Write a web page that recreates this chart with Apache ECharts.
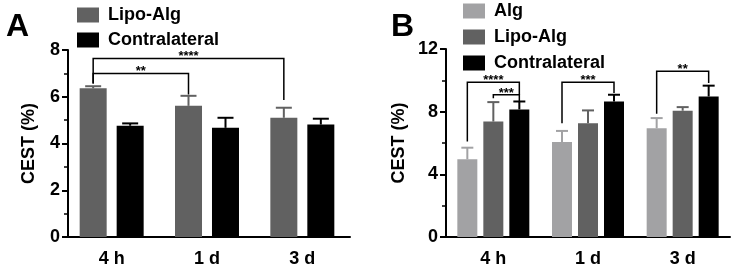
<!DOCTYPE html>
<html>
<head>
<meta charset="utf-8">
<script src="https://cdn.jsdelivr.net/npm/echarts@6/dist/echarts.min.js"></script>
<style>
  html, body { margin: 0; padding: 0; background: #fff; }
  #chart { width: 733px; height: 274px; }
</style>
</head>
<body>
<div id="chart"></div>
<script>
// categories shared by both panels
const categories = ['4 h', '1 d', '3 d'];

// panel A
const lipoA = [6.36, 5.61, 5.10];
const lipoAErr = [6.45, 6.04, 5.53];
const contraA = [4.76, 4.67, 4.81];
const contraAErr = [4.86, 5.10, 5.06];

// panel B
const algB = [4.96, 6.07, 6.94];
const algBErr = [5.70, 6.77, 7.59];
const lipoB = [7.37, 7.26, 8.06];
const lipoBErr = [8.61, 8.08, 8.29];
const contraB = [8.14, 8.65, 8.97];
const contraBErr = [8.65, 9.08, 9.66];

// significance brackets: [category, bar] ends, line height, leg bottoms, stars
const bracketsA = [
  { from: [0, 0], to: [2, 0], y: 7.64, legFrom: 6.57, legTo: 5.86, text: '****' },
  { from: [0, 0], to: [1, 0], y: 7.0, legFrom: 6.57, legTo: 6.1, text: '**' }
];
const bracketsB = [
  { from: [0, 0], to: [0, 2], y: 9.87, legFrom: 6.09, legTo: 9.08, text: '****' },
  { from: [0, 1], to: [0, 2], y: 9.08, legFrom: 8.85, legTo: 8.65, text: '***' },
  { from: [1, 0], to: [1, 2], y: 9.87, legFrom: 7.26, legTo: 9.19, text: '***' },
  { from: [2, 0], to: [2, 2], y: 10.58, legFrom: 7.86, legTo: 9.83, text: '**' }
];

const FONT = 'Liberation Sans';
const C_ALG = '#a2a2a4';
const C_LIPO = '#616161';
const C_CONTRA = '#000000';

const offsetsA = [-18.5, 18.5];
const offsetsB = [-26, 0, 26];

function errorSeries(name, values, tops, color, offset, capW, axis) {
  return {
    type: 'custom',
    name: name,
    xAxisIndex: axis,
    yAxisIndex: axis,
    silent: true,
    z: 3,
    data: values.map((v, i) => [i, v, tops[i]]),
    encode: { x: 0, y: [1, 2] },
    renderItem: function (params, api) {
      const base = api.coord([api.value(0), api.value(1)]);
      const top = api.coord([api.value(0), api.value(2)]);
      const x = base[0] + offset;
      return {
        type: 'group',
        children: [
          { type: 'line', shape: { x1: x, y1: base[1], x2: x, y2: top[1] }, style: { stroke: color, lineWidth: 2 } },
          { type: 'line', shape: { x1: x - capW / 2, y1: top[1], x2: x + capW / 2, y2: top[1] }, style: { stroke: color, lineWidth: 2 } }
        ]
      };
    }
  };
}

function bracketSeries(list, offsets, axis) {
  return {
    type: 'custom',
    xAxisIndex: axis,
    yAxisIndex: axis,
    silent: true,
    z: 4,
    data: list.map((b) => [b.from[0], b.y]),
    renderItem: function (params, api) {
      const b = list[params.dataIndex];
      const p1 = api.coord([b.from[0], b.y]);
      const p2 = api.coord([b.to[0], b.y]);
      const x1 = p1[0] + offsets[b.from[1]];
      const x2 = p2[0] + offsets[b.to[1]];
      const y = p1[1];
      const yl1 = api.coord([b.from[0], b.legFrom])[1];
      const yl2 = api.coord([b.to[0], b.legTo])[1];
      return {
        type: 'group',
        children: [
          { type: 'polyline', shape: { points: [[x1, yl1], [x1, y], [x2, y], [x2, yl2]] }, style: { stroke: '#000', lineWidth: 1.5, fill: null } },
          { type: 'text', style: { x: (x1 + x2) / 2, y: y + 5, text: b.text, textAlign: 'center', textVerticalAlign: 'bottom', font: 'bold 13px ' + FONT, fill: '#000' } }
        ]
      };
    }
  };
}

function yAxisOf(grid, max, interval, nameGap) {
  return {
    type: 'value',
    gridIndex: grid,
    min: 0,
    max: max,
    interval: interval,
    offset: grid === 0 ? -4 : 0,
    name: 'CEST (%)',
    nameLocation: 'middle',
    nameGap: nameGap,
    nameTextStyle: { fontFamily: FONT, fontWeight: 'bold', fontSize: 18, color: '#000' },
    axisLine: { show: true, lineStyle: { color: '#000', width: 2 } },
    axisTick: { show: true, length: 6, lineStyle: { color: '#000', width: 2 } },
    minorTick: { show: true, splitNumber: 2, length: 4, lineStyle: { color: '#000', width: 1.5 } },
    axisLabel: { fontFamily: FONT, fontWeight: 'bold', fontSize: 18, color: '#000', margin: 8 },
    splitLine: { show: false }
  };
}

function xAxisOf(grid) {
  return {
    type: 'category',
    gridIndex: grid,
    data: categories,
    axisLine: { lineStyle: { color: '#000', width: 2 } },
    axisTick: { alignWithLabel: true, length: 6, lineStyle: { color: '#000', width: 2 } },
    axisLabel: { fontFamily: FONT, fontWeight: 'bold', fontSize: 18, color: '#000', margin: 13 }
  };
}

const chart = echarts.init(document.getElementById('chart'));

chart.setOption({
  animation: false,
  title: [
    { text: 'A', left: 6, top: 11, padding: 0, textStyle: { fontFamily: FONT, fontWeight: 'bold', fontSize: 32, color: '#000' } },
    { text: 'B', left: 391, top: 11, padding: 0, textStyle: { fontFamily: FONT, fontWeight: 'bold', fontSize: 32, color: '#000' } }
  ],
  legend: [
    {
      data: ['Lipo-Alg', 'Contralateral'],
      orient: 'vertical', left: 77, top: 6, padding: 0,
      itemWidth: 22, itemHeight: 15, itemGap: 7, icon: 'rect',
      textStyle: { fontFamily: FONT, fontWeight: 'bold', fontSize: 18, color: '#000', padding: [0, 0, 0, 4] }
    },
    {
      data: ['Alg', 'Lipo-Alg', 'Contralateral'],
      orient: 'vertical', left: 463, top: 2, padding: 0,
      itemWidth: 22, itemHeight: 15, itemGap: 8, icon: 'rect',
      textStyle: { fontFamily: FONT, fontWeight: 'bold', fontSize: 18, color: '#000', padding: [0, 0, 0, 4] }
    }
  ],
  grid: [
    { left: 64, top: 50, width: 286, height: 187 },
    { left: 446, top: 49, width: 284, height: 188 }
  ],
  xAxis: [xAxisOf(0), xAxisOf(1)],
  yAxis: [yAxisOf(0, 8, 2, 30), yAxisOf(1, 12, 4, 38)],
  series: [
    { type: 'bar', name: 'Lipo-Alg', xAxisIndex: 0, yAxisIndex: 0, data: lipoA, barWidth: 27, barGap: '37%', itemStyle: { color: C_LIPO } },
    { type: 'bar', name: 'Contralateral', xAxisIndex: 0, yAxisIndex: 0, data: contraA, barWidth: 27, barGap: '37%', itemStyle: { color: C_CONTRA } },
    errorSeries('errLipoA', lipoA, lipoAErr, C_LIPO, offsetsA[0], 16, 0),
    errorSeries('errContraA', contraA, contraAErr, C_CONTRA, offsetsA[1], 16, 0),
    bracketSeries(bracketsA, offsetsA, 0),

    { type: 'bar', name: 'Alg', xAxisIndex: 1, yAxisIndex: 1, data: algB, barWidth: 20, barGap: '30%', itemStyle: { color: C_ALG } },
    { type: 'bar', name: 'Lipo-Alg', xAxisIndex: 1, yAxisIndex: 1, data: lipoB, barWidth: 20, barGap: '30%', itemStyle: { color: C_LIPO } },
    { type: 'bar', name: 'Contralateral', xAxisIndex: 1, yAxisIndex: 1, data: contraB, barWidth: 20, barGap: '30%', itemStyle: { color: C_CONTRA } },
    errorSeries('errAlgB', algB, algBErr, C_ALG, offsetsB[0], 12, 1),
    errorSeries('errLipoB', lipoB, lipoBErr, C_LIPO, offsetsB[1], 12, 1),
    errorSeries('errContraB', contraB, contraBErr, C_CONTRA, offsetsB[2], 12, 1),
    bracketSeries(bracketsB, offsetsB, 1)
  ]
});
</script>
</body>
</html>
